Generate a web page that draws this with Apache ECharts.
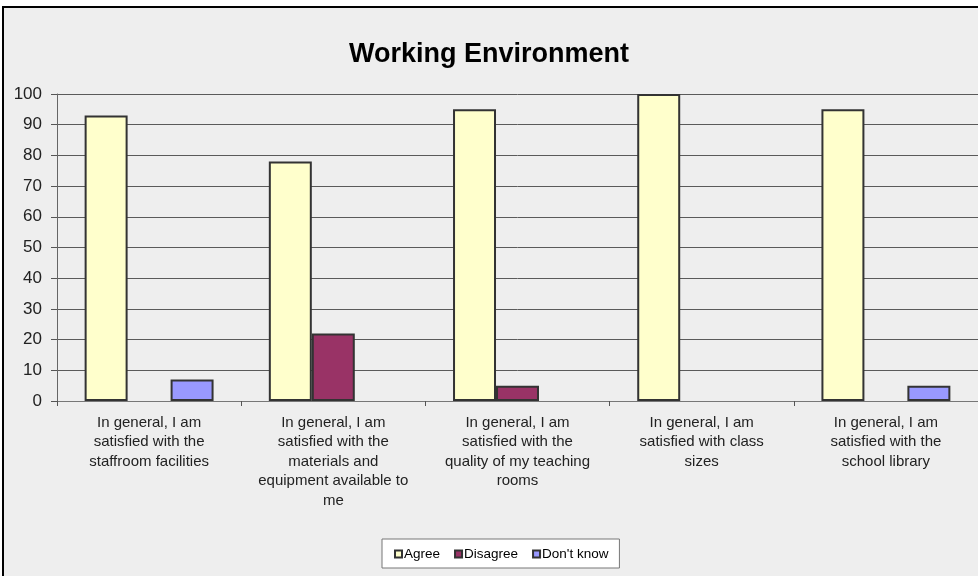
<!DOCTYPE html>
<html><head><meta charset="utf-8">
<script src="https://cdn.jsdelivr.net/npm/echarts@6/dist/echarts.min.js"></script>
<style>html,body{margin:0;padding:0;background:#fff}#c{width:978px;height:576px}</style>
</head><body><div id="c"></div>
<script>
const categories = [
  "In general, I am\nsatisfied with the\nstaffroom facilities",
  "In general, I am\nsatisfied with the\nmaterials and\nequipment available to\nme",
  "In general, I am\nsatisfied with the\nquality of my teaching\nrooms",
  "In general, I am\nsatisfied with class\nsizes",
  "In general, I am\nsatisfied with the\nschool library"
];
const seriesNames = ["Agree", "Disagree", "Don't know"];
const agree = [93, 78, 95, 100, 95];
const disagree = [0, 22, 5, 0, 0];
const dontKnow = [7, 0, 0, 0, 5];
const colors = ["#FFFFCC", "#993366", "#9999FF"];

const chart = echarts.init(document.getElementById('c'));
const dataSets = [agree, disagree, dontKnow];
chart.setOption({
  animation: false,
  backgroundColor: '#fff',
  graphic: [{
    type: 'rect', z: -10, silent: true,
    shape: {x: 3, y: 7, width: 980, height: 575},
    style: {fill: '#eeeeee', stroke: '#000', lineWidth: 2}
  }],
  title: {
    text: 'Working Environment', left: 'center', top: 36,
    textStyle: {fontFamily: 'Liberation Sans, Arial', fontSize: 27, fontWeight: 'bold', color: '#000'}
  },
  legend: {
    bottom: 8, left: 382,
    data: seriesNames,
    itemWidth: 7, itemHeight: 7, itemGap: 14,
    backgroundColor: '#fff', borderColor: '#777', borderWidth: 1,
    padding: [8, 11, 7, 12],
    textStyle: {fontFamily: 'Liberation Sans, Arial', fontSize: 13.5, color: '#000', padding: [0, 0, 0, -3]},
    icon: 'rect'
  },
  grid: {left: 57, right: 0, top: 94, bottom: 175},
  xAxis: {
    type: 'category', data: categories,
    axisLine: {lineStyle: {color: '#777', width: 1}},
    axisTick: {show: true, length: 5, lineStyle: {color: '#555'}},
    axisLabel: {interval: 0, fontFamily: 'Liberation Sans, Arial', fontSize: 15, color: '#222', lineHeight: 19.5, margin: 12}
  },
  yAxis: {
    type: 'value', min: 0, max: 100, interval: 10,
    axisLine: {show: true, lineStyle: {color: '#666', width: 1}},
    axisTick: {show: true, length: 6, lineStyle: {color: '#555'}},
    splitLine: {lineStyle: {color: '#5a5a5a', width: 1}},
    axisLabel: {fontFamily: 'Liberation Sans, Arial', fontSize: 17, color: '#222', margin: 15}
  },
  series: seriesNames.map((n, i) => ({
    name: n, type: 'bar',
    data: dataSets[i].map(v => v === 0 ? '-' : v),
    barGap: '0%', barCategoryGap: '30%',
    itemStyle: {color: colors[i], borderColor: '#333', borderWidth: 2}
  }))
});
</script></body></html>
